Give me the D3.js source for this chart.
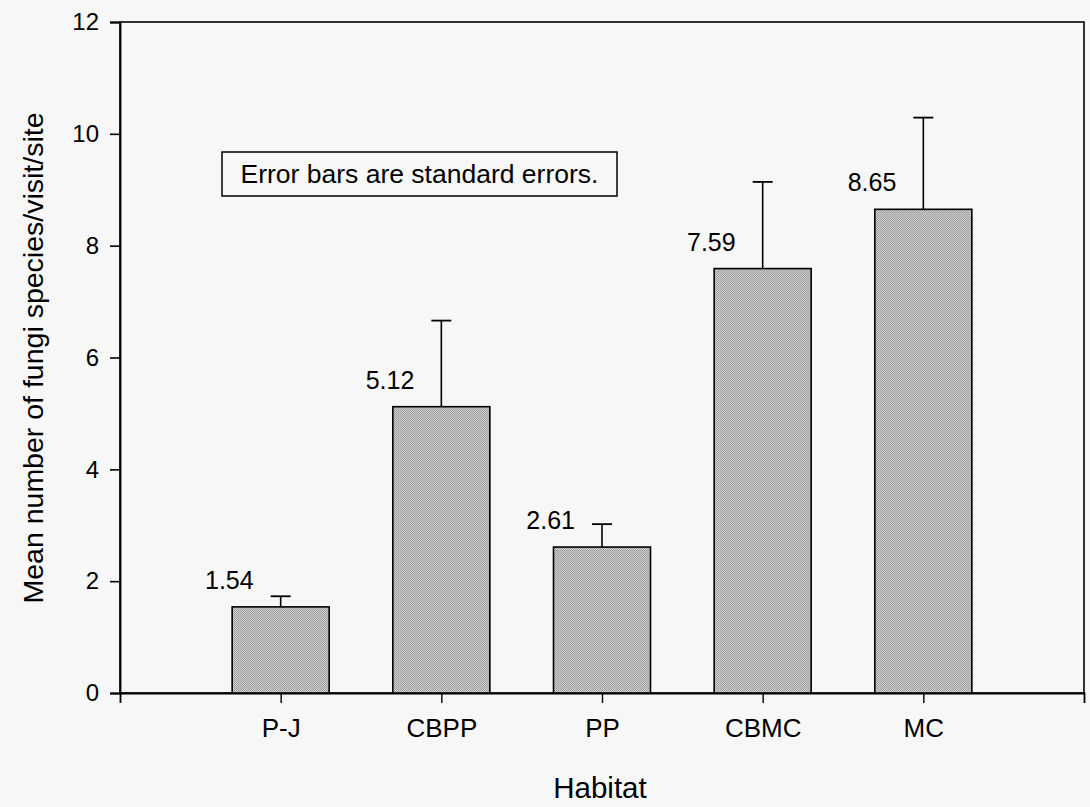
<!DOCTYPE html>
<html><head><meta charset="utf-8">
<script src="https://cdn.jsdelivr.net/npm/d3@7"></script>
<style>
html,body{margin:0;padding:0;background:#f7f7f7;}
svg{display:block;font-family:"Liberation Sans",Arial,sans-serif;}
</style></head>
<body>
<svg id="chart" width="1090" height="807"></svg>
<script>
const categories = ["P-J","CBPP","PP","CBMC","MC"];
const means = [1.54, 5.12, 2.61, 7.59, 8.65];
const errorTops = [1.73, 6.66, 3.02, 9.14, 10.29];
const valueLabels = ["1.54","5.12","2.61","7.59","8.65"];
const yTicks = [0,2,4,6,8,10,12];
const note = "Error bars are standard errors.";
const xTitle = "Habitat";
const yTitle = "Mean number of fungi species/visit/site";

const svg = d3.select("#chart");
const L = 120, R = 1084, T = 22, B = 693;
const FONT = "Liberation Sans, Arial, sans-serif";

const defs = svg.append("defs");
const pat = defs.append("pattern").attr("id","stip").attr("patternUnits","userSpaceOnUse")
  .attr("width",2).attr("height",2);
pat.append("rect").attr("width",2).attr("height",2).attr("fill","#cdcdcd");
pat.append("rect").attr("x",0).attr("y",0).attr("width",1).attr("height",1).attr("fill","#9c9c9c");
pat.append("rect").attr("x",1).attr("y",1).attr("width",1).attr("height",1).attr("fill","#a6a6a6");

const x = d3.scalePoint().domain(categories).range([L, R]).padding(1);
const y = d3.scaleLinear().domain([0,12]).range([B, T]);
const barW = 97;

// frame
svg.append("rect").attr("x",L).attr("y",T).attr("width",R-L).attr("height",B-T)
  .attr("fill","none").attr("stroke","#000").attr("stroke-width",1.6);

// y axis
const yAxis = d3.axisLeft(y).tickValues(yTicks).tickSize(10).tickPadding(11).tickFormat(d3.format("d"));
const gy = svg.append("g").attr("transform",`translate(${L},0)`).call(yAxis);
gy.select(".domain").attr("stroke","#000").attr("stroke-width",1.8);
gy.selectAll(".tick line").attr("stroke","#000").attr("stroke-width",1.6);
gy.selectAll(".tick text").attr("font-size",24).attr("fill","#000").attr("font-family",FONT);

// x axis
const xAxis = d3.axisBottom(x).tickSize(10).tickPadding(16);
const gx = svg.append("g").attr("transform",`translate(0,${B})`).call(xAxis);
gx.select(".domain").attr("stroke","#000").attr("stroke-width",1.8);
gx.selectAll(".tick line").attr("stroke","#000").attr("stroke-width",1.4);
gx.selectAll(".tick text").attr("font-size",26).attr("fill","#000").attr("font-family",FONT);

// error bars (upper only, centred cap)
const eb = svg.append("g");
categories.forEach((c,i)=>{
  eb.append("line").attr("x1",x(c)).attr("x2",x(c)).attr("y1",y(means[i])).attr("y2",y(errorTops[i]))
    .attr("stroke","#000").attr("stroke-width",1.6);
  eb.append("line").attr("x1",x(c)-10).attr("x2",x(c)+10).attr("y1",y(errorTops[i])).attr("y2",y(errorTops[i]))
    .attr("stroke","#000").attr("stroke-width",1.8);
});

// bars
svg.append("g").selectAll("rect").data(categories).join("rect")
  .attr("x",d=>x(d)-barW/2).attr("width",barW)
  .attr("y",(d,i)=>y(means[i])).attr("height",(d,i)=>y(0)-y(means[i]))
  .attr("fill","url(#stip)").attr("stroke","#000").attr("stroke-width",1.6);

// value labels
svg.append("g").selectAll("text").data(categories).join("text")
  .attr("x",d=>x(d)-27).attr("y",(d,i)=>y(means[i])-18)
  .attr("text-anchor","end").attr("font-size",25).attr("fill","#000")
  .text((d,i)=>valueLabels[i]);

// note box
const bx = 222, bw = 395, by = 152, bh = 44;
svg.append("rect").attr("x",bx).attr("y",by).attr("width",bw).attr("height",bh)
  .attr("fill","none").attr("stroke","#000").attr("stroke-width",1.5);
svg.append("text").attr("x",bx+bw/2).attr("y",by+bh/2+9).attr("text-anchor","middle")
  .attr("font-size",26.5).attr("fill","#000").text(note);

// titles
svg.append("text").attr("x",600).attr("y",798).attr("text-anchor","middle")
  .attr("font-size",29.5).attr("fill","#000").text(xTitle);
svg.append("text").attr("transform","translate(43,358) rotate(-90)").attr("text-anchor","middle")
  .attr("font-size",28.5).attr("fill","#000").text(yTitle);
</script>
</body></html>
